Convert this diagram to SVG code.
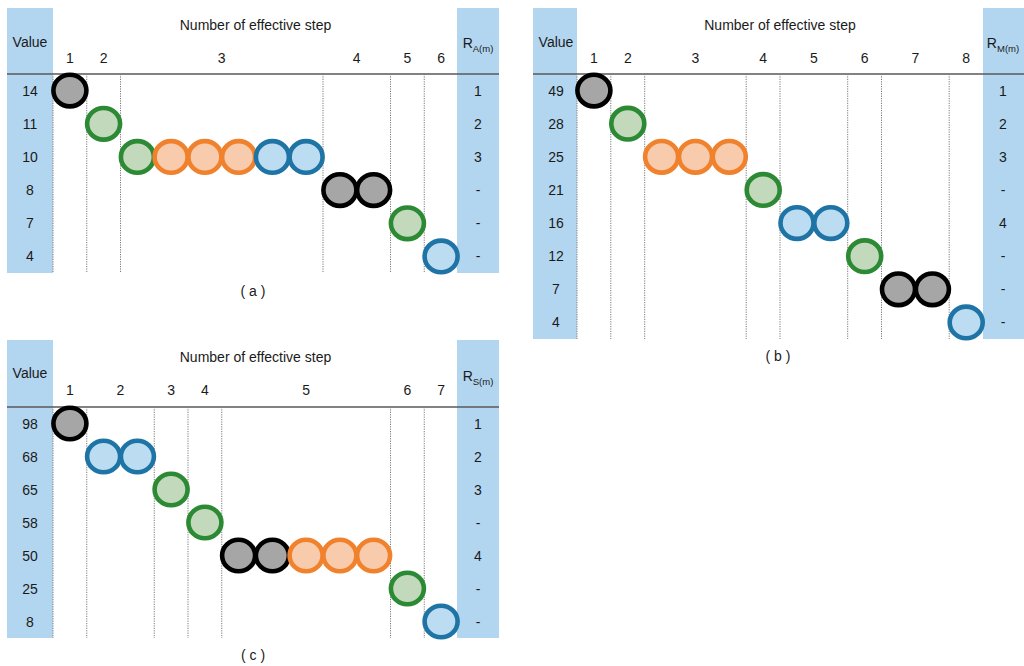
<svg xmlns="http://www.w3.org/2000/svg" width="1024" height="666" viewBox="0 0 1024 666">
<style>
text{font-family:"Liberation Sans",Arial,sans-serif;font-size:14px;fill:#1a1a1a;text-anchor:middle}
.sub{font-size:9.5px}
.hdr{fill:#b3d6f0}
.grid{stroke:#7a7a7a;stroke-width:1;stroke-dasharray:1.2,1.2;fill:none}
.hl{stroke:#595959;stroke-width:1.5}
ellipse{stroke-width:4.6}
.k{fill:#a6a6a6;stroke:#000}
.g{fill:#c3d9bc;stroke:#2b8a33}
.o{fill:#f8cbad;stroke:#f0822e}
.b{fill:#bcdcf2;stroke:#1f74a6}
</style>
<rect width="1024" height="666" fill="#fff"/>

<!-- Panel (a) -->
<g id="panel-a">
<rect class="hdr" x="7" y="8" width="46" height="265"/>
<rect class="hdr" x="457" y="8" width="42" height="265"/>
<line class="hl" x1="7" y1="74" x2="499" y2="74"/>
<g class="grid">
<line x1="53" y1="74" x2="53" y2="273"/><line x1="86.75" y1="74" x2="86.75" y2="273"/><line x1="120.5" y1="74" x2="120.5" y2="273"/><line x1="323" y1="74" x2="323" y2="273"/><line x1="390.5" y1="74" x2="390.5" y2="273"/><line x1="424.25" y1="74" x2="424.25" y2="273"/>
</g>
<text x="255.5" y="30">Number of effective step</text>
<text x="30" y="47">Value</text>
<text x="478" y="48">R<tspan class="sub" dy="4">A(m)</tspan></text>
<text x="69.9" y="63">1</text><text x="103.6" y="63">2</text><text x="221.75" y="63">3</text><text x="356.75" y="63">4</text><text x="407.4" y="63">5</text><text x="441.1" y="63">6</text>
<text x="30" y="96">14</text><text x="30" y="129">11</text><text x="30" y="162">10</text><text x="30" y="195">8</text><text x="30" y="228">7</text><text x="30" y="261">4</text>
<text x="478" y="96">1</text><text x="478" y="129">2</text><text x="478" y="162">3</text><text x="478" y="195">-</text><text x="478" y="228">-</text><text x="478" y="261">-</text>
<g id="a-marks">
<ellipse class="k" cx="69.9" cy="90.6" rx="16.5" ry="15.8"/>
<ellipse class="g" cx="103.6" cy="123.8" rx="16.5" ry="15.8"/>
<ellipse class="g" cx="137.4" cy="156.9" rx="16.5" ry="15.8"/>
<ellipse class="o" cx="171.1" cy="156.9" rx="16.5" ry="15.8"/>
<ellipse class="o" cx="204.9" cy="156.9" rx="16.5" ry="15.8"/>
<ellipse class="o" cx="238.6" cy="156.9" rx="16.5" ry="15.8"/>
<ellipse class="b" cx="272.4" cy="156.9" rx="16.5" ry="15.8"/>
<ellipse class="b" cx="306.1" cy="156.9" rx="16.5" ry="15.8"/>
<ellipse class="k" cx="339.9" cy="190.1" rx="16.5" ry="15.8"/>
<ellipse class="k" cx="373.6" cy="190.1" rx="16.5" ry="15.8"/>
<ellipse class="g" cx="407.4" cy="223.3" rx="16.5" ry="15.8"/>
<ellipse class="b" cx="441.1" cy="256.4" rx="16.5" ry="15.8"/>
</g>
<text x="253" y="296">( a )</text>
</g>

<!-- Panel (b) -->
<g id="panel-b">
<rect class="hdr" x="533" y="8" width="44" height="331"/>
<rect class="hdr" x="983" y="8" width="41" height="331"/>
<line class="hl" x1="533" y1="74" x2="1024" y2="74"/>
<g class="grid">
<line x1="577" y1="74" x2="577" y2="339"/><line x1="610.8" y1="74" x2="610.8" y2="339"/><line x1="644.7" y1="74" x2="644.7" y2="339"/><line x1="746.2" y1="74" x2="746.2" y2="339"/><line x1="780" y1="74" x2="780" y2="339"/><line x1="847.7" y1="74" x2="847.7" y2="339"/><line x1="881.5" y1="74" x2="881.5" y2="339"/><line x1="949.2" y1="74" x2="949.2" y2="339"/>
</g>
<text x="780" y="30">Number of effective step</text>
<text x="556" y="47">Value</text>
<text x="1003" y="48">R<tspan class="sub" dy="4">M(m)</tspan></text>
<text x="593.9" y="63">1</text><text x="627.8" y="63">2</text><text x="695.5" y="63">3</text><text x="763.2" y="63">4</text><text x="813.8" y="63">5</text><text x="864.7" y="63">6</text><text x="915.3" y="63">7</text><text x="966.2" y="63">8</text>
<text x="556" y="96">49</text><text x="556" y="129">28</text><text x="556" y="162">25</text><text x="556" y="195">21</text><text x="556" y="228">16</text><text x="556" y="261">12</text><text x="556" y="294">7</text><text x="556" y="327">4</text>
<text x="1003" y="96">1</text><text x="1003" y="129">2</text><text x="1003" y="162">3</text><text x="1003" y="195">-</text><text x="1003" y="228">4</text><text x="1003" y="261">-</text><text x="1003" y="294">-</text><text x="1003" y="327">-</text>
<g id="b-marks">
<ellipse class="k" cx="593.9" cy="90.6" rx="16.5" ry="15.8"/>
<ellipse class="g" cx="627.8" cy="123.7" rx="16.5" ry="15.8"/>
<ellipse class="o" cx="661.6" cy="156.8" rx="16.5" ry="15.8"/>
<ellipse class="o" cx="695.5" cy="156.8" rx="16.5" ry="15.8"/>
<ellipse class="o" cx="729.3" cy="156.8" rx="16.5" ry="15.8"/>
<ellipse class="g" cx="763.2" cy="189.9" rx="16.5" ry="15.8"/>
<ellipse class="b" cx="797" cy="223.1" rx="16.5" ry="15.8"/>
<ellipse class="b" cx="830.8" cy="223.1" rx="16.5" ry="15.8"/>
<ellipse class="g" cx="864.7" cy="256.2" rx="16.5" ry="15.8"/>
<ellipse class="k" cx="898.5" cy="289.3" rx="16.5" ry="15.8"/>
<ellipse class="k" cx="932.4" cy="289.3" rx="16.5" ry="15.8"/>
<ellipse class="b" cx="966.2" cy="322.4" rx="16.5" ry="15.8"/>
</g>
<text x="778" y="361">( b )</text>
</g>

<!-- Panel (c) -->
<g id="panel-c">
<rect class="hdr" x="7" y="340" width="46" height="298"/>
<rect class="hdr" x="457" y="340" width="42" height="298"/>
<line class="hl" x1="7" y1="407" x2="499" y2="407"/>
<g class="grid">
<line x1="53" y1="407" x2="53" y2="638"/><line x1="86.75" y1="407" x2="86.75" y2="638"/><line x1="154.25" y1="407" x2="154.25" y2="638"/><line x1="188" y1="407" x2="188" y2="638"/><line x1="221.75" y1="407" x2="221.75" y2="638"/><line x1="390.5" y1="407" x2="390.5" y2="638"/><line x1="424.25" y1="407" x2="424.25" y2="638"/>
</g>
<text x="255.5" y="362">Number of effective step</text>
<text x="30" y="378">Value</text>
<text x="478" y="381">R<tspan class="sub" dy="4">S(m)</tspan></text>
<text x="69.9" y="395">1</text><text x="120.5" y="395">2</text><text x="171.1" y="395">3</text><text x="204.9" y="395">4</text><text x="306.1" y="395">5</text><text x="407.4" y="395">6</text><text x="441.1" y="395">7</text>
<text x="30" y="429">98</text><text x="30" y="462">68</text><text x="30" y="495">65</text><text x="30" y="528">58</text><text x="30" y="561">50</text><text x="30" y="594">25</text><text x="30" y="627">8</text>
<text x="478" y="429">1</text><text x="478" y="462">2</text><text x="478" y="495">3</text><text x="478" y="528">-</text><text x="478" y="561">4</text><text x="478" y="594">-</text><text x="478" y="627">-</text>
<g id="c-marks">
<ellipse class="k" cx="69.9" cy="423.5" rx="16.5" ry="15.8"/>
<ellipse class="b" cx="103.6" cy="456.5" rx="16.5" ry="15.8"/>
<ellipse class="b" cx="137.4" cy="456.5" rx="16.5" ry="15.8"/>
<ellipse class="g" cx="171.1" cy="489.5" rx="16.5" ry="15.8"/>
<ellipse class="g" cx="204.9" cy="522.5" rx="16.5" ry="15.8"/>
<ellipse class="k" cx="238.6" cy="555.5" rx="16.5" ry="15.8"/>
<ellipse class="k" cx="272.4" cy="555.5" rx="16.5" ry="15.8"/>
<ellipse class="o" cx="306.1" cy="555.5" rx="16.5" ry="15.8"/>
<ellipse class="o" cx="339.9" cy="555.5" rx="16.5" ry="15.8"/>
<ellipse class="o" cx="373.6" cy="555.5" rx="16.5" ry="15.8"/>
<ellipse class="g" cx="407.4" cy="588.5" rx="16.5" ry="15.8"/>
<ellipse class="b" cx="441.1" cy="621.5" rx="16.5" ry="15.8"/>
</g>
<text x="253" y="660">( c )</text>
</g>
</svg>
